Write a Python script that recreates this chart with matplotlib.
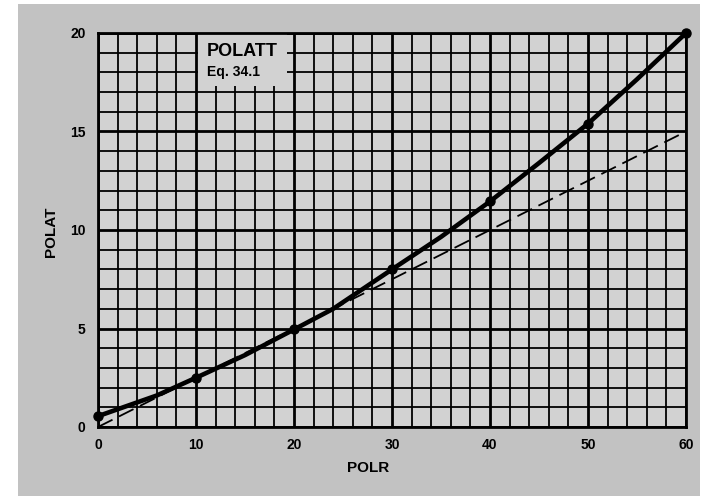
import matplotlib
matplotlib.use("Agg")
import matplotlib.pyplot as plt
from matplotlib.patches import Rectangle

# Data
curve_x = [0, 6, 10, 15, 20, 24, 30, 35, 40, 45, 50, 55, 60]
curve_y = [0.55, 1.6, 2.5, 3.65, 4.95, 6.0, 8.0, 9.65, 11.45, 13.4, 15.4, 17.65, 20.0]
marker_x = [0, 10, 20, 30, 40, 50, 60]
marker_y = [0.55, 2.5, 4.95, 8.0, 11.45, 15.4, 20.0]
dash_x = [0, 60]
dash_y = [0, 15]
x_ticks = [0, 10, 20, 30, 40, 50, 60]
y_ticks = [0, 5, 10, 15, 20]
title_text = "POLATT"
sub_text = "Eq. 34.1"
x_label = "POLR"
y_label = "POLAT"

FONT = "Liberation Sans"
OUT_BG = "#c2c2c2"
IN_BG = "#d2d2d2"

fig = plt.figure(figsize=(7.02, 5.01), dpi=100, facecolor="white")
# stippled background panel
fig.patches.append(Rectangle((18 / 702, 5 / 501), 682 / 702, 492 / 501,
                             transform=fig.transFigure, facecolor=OUT_BG,
                             edgecolor="none", zorder=-10))

ax = fig.add_axes([98 / 702, 1 - 427 / 501, 588 / 702, 394 / 501])
ax.set_zorder(2)
ax.set_facecolor(IN_BG)
ax.set_xlim(0, 60)
ax.set_ylim(0, 20)
ax.set_axisbelow(True)

ax.set_xticks(x_ticks)
ax.set_yticks(y_ticks)
ax.set_xticks(range(0, 61, 2), minor=True)
ax.set_yticks(range(0, 21, 1), minor=True)
ax.grid(which="major", color="black", linewidth=2.0)
ax.grid(which="minor", color="black", linewidth=1.3)
ax.tick_params(which="both", length=0)
ax.tick_params(axis="x", pad=8)
ax.tick_params(axis="y", pad=9)
for lab in ax.get_xticklabels() + ax.get_yticklabels():
    lab.set_fontfamily(FONT)
    lab.set_fontweight("bold")
    lab.set_fontsize(10)

for s in ax.spines.values():
    s.set_linewidth(2.0)
    s.set_color("black")
    s.set_zorder(5)

# box behind the title text hiding the gridlines
ax.add_patch(Rectangle((10.25, 17.3), 9.0, 2.7, facecolor=IN_BG,
                       edgecolor="none", zorder=1))
ax.text(11.1, 19.05, title_text, fontfamily=FONT, fontweight="bold",
        fontsize=13, va="center", ha="left", zorder=6)
ax.text(11.1, 18.0, sub_text, fontfamily=FONT, fontweight="bold",
        fontsize=10, va="center", ha="left", zorder=6)

ax.plot(dash_x, dash_y, color="black", linewidth=1.3, linestyle=(0, (9, 4)),
        zorder=3, clip_on=False)
ax.plot(curve_x, curve_y, color="black", linewidth=3.3, zorder=4,
        solid_capstyle="round", clip_on=False)
ax.plot(marker_x, marker_y, linestyle="none", marker="o", markersize=6.5,
        color="black", zorder=4, clip_on=False)

fig.text(368 / 702, 1 - 468 / 501, x_label, fontfamily=FONT, fontweight="bold",
         fontsize=11, ha="center", va="center")
fig.text(51 / 702, 1 - 232 / 501, y_label, fontfamily=FONT, fontweight="bold",
         fontsize=11, ha="center", va="center", rotation=90)

fig.savefig("out.png", dpi=100, facecolor="white")
